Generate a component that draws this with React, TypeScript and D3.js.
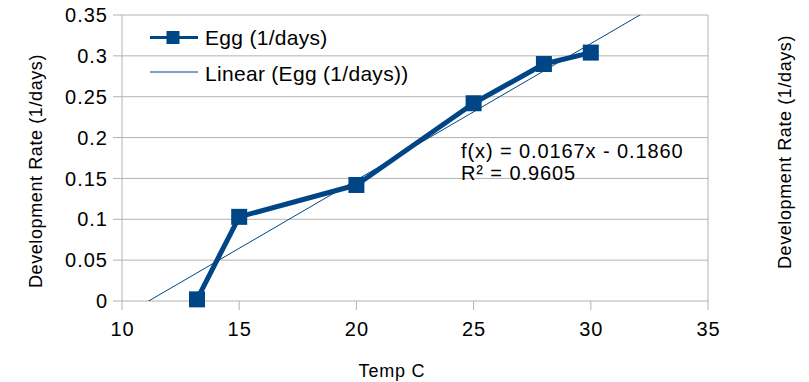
import React, { useRef, useEffect } from "react";
import * as d3 from "d3";

const temps = [13.2, 15, 20, 25, 28, 30];
const rates = [0.002, 0.103, 0.142, 0.242, 0.29, 0.304];
const xTicks = [10, 15, 20, 25, 30, 35];
const yTicks = [0, 0.05, 0.1, 0.15, 0.2, 0.25, 0.3, 0.35];
const slope = 0.0167;
const intercept = -0.186;
const seriesName = "Egg (1/days)";
const trendName = "Linear (Egg (1/days))";
const yTitle = "Development Rate (1/days)";
const xTitle = "Temp C";

const App: React.FC = () => {
    const svgRef = useRef<SVGSVGElement | null>(null);

    useEffect(() => {
        if (!svgRef.current) return;
        const width = 809;
        const height = 382;
        const color = "#004586";
        const grid = "#b3b3b3";
        const font = "'Liberation Sans', Arial, sans-serif";

        const x = d3.scaleLinear().domain([10, 35]).range([122, 708]);
        const y = d3.scaleLinear().domain([0, 0.35]).range([301, 15]);

        const svg = d3.select(svgRef.current);
        svg.selectAll("*").remove();
        svg.attr("width", width).attr("height", height)
            .style("font-family", font)
            .style("fill", "#000");

        // clip for the trendline
        svg.append("clipPath").attr("id", "plot-clip")
            .append("rect")
            .attr("x", x(10)).attr("y", y(0.35))
            .attr("width", x(35) - x(10)).attr("height", y(0) - y(0.35));

        // horizontal gridlines (extend left as ticks)
        svg.append("g").selectAll("line")
            .data(yTicks)
            .join("line")
            .attr("x1", x(10) - 9).attr("x2", x(35))
            .attr("y1", d => y(d)).attr("y2", d => y(d))
            .attr("stroke", grid).attr("stroke-width", 1);

        // x ticks
        svg.append("g").selectAll("line")
            .data(xTicks)
            .join("line")
            .attr("x1", d => x(d)).attr("x2", d => x(d))
            .attr("y1", y(0)).attr("y2", y(0) + 9)
            .attr("stroke", grid);

        // frame verticals
        svg.append("line").attr("x1", x(10)).attr("x2", x(10))
            .attr("y1", y(0.35)).attr("y2", y(0)).attr("stroke", grid);
        svg.append("line").attr("x1", x(35)).attr("x2", x(35))
            .attr("y1", y(0.35)).attr("y2", y(0)).attr("stroke", grid);

        // y tick labels
        svg.append("g").selectAll("text")
            .data(yTicks)
            .join("text")
            .attr("x", 108).attr("y", d => y(d))
            .attr("dy", "0.36em")
            .attr("text-anchor", "end")
            .attr("font-size", 20)
            .attr("letter-spacing", 1)
            .text(d => String(d));

        // x tick labels
        svg.append("g").selectAll("text")
            .data(xTicks)
            .join("text")
            .attr("x", d => x(d) + 0.5).attr("y", 336)
            .attr("text-anchor", "middle")
            .attr("font-size", 20)
            .attr("letter-spacing", 1)
            .text(d => String(d));

        // axis titles
        svg.append("text")
            .attr("x", 392).attr("y", 377)
            .attr("text-anchor", "middle").attr("font-size", 18)
            .attr("letter-spacing", 0.8)
            .text(xTitle);
        svg.append("text")
            .attr("transform", "translate(42,171) rotate(-90)")
            .attr("text-anchor", "middle").attr("font-size", 18)
            .attr("letter-spacing", 0.6)
            .text(yTitle);
        svg.append("text")
            .attr("transform", "translate(791,152) rotate(-90)")
            .attr("text-anchor", "middle").attr("font-size", 18)
            .attr("letter-spacing", 0.6)
            .text(yTitle);

        // trendline
        const trendLine = d3.line<number>().x(d => x(d)).y(d => y(slope * d + intercept));
        svg.append("path")
            .attr("d", trendLine([10, 35]))
            .attr("clip-path", "url(#plot-clip)")
            .attr("fill", "none").attr("stroke", color).attr("stroke-width", 1);

        // data series
        const pts = temps.map((t, i) => [t, rates[i]] as [number, number]);
        const line = d3.line<[number, number]>().x(d => x(d[0])).y(d => y(d[1]));
        svg.append("path")
            .attr("d", line(pts))
            .attr("fill", "none").attr("stroke", color)
            .attr("stroke-width", 5).attr("stroke-linejoin", "round");
        const sq = 16;
        svg.append("g").selectAll("rect")
            .data(pts)
            .join("rect")
            .attr("x", d => x(d[0]) - sq / 2).attr("y", d => y(d[1]) - sq / 2)
            .attr("width", sq).attr("height", sq)
            .attr("fill", color);

        // legend
        const lg = svg.append("g");
        lg.append("line").attr("x1", 150).attr("x2", 198).attr("y1", 37.5).attr("y2", 37.5)
            .attr("stroke", color).attr("stroke-width", 3);
        lg.append("rect").attr("x", 166.5).attr("y", 31).attr("width", 13).attr("height", 13)
            .attr("fill", color);
        lg.append("text").attr("x", 205).attr("y", 45).attr("font-size", 21)
            .attr("letter-spacing", 0.3).text(seriesName);
        lg.append("line").attr("x1", 150).attr("x2", 198).attr("y1", 72).attr("y2", 72)
            .attr("stroke", color).attr("stroke-width", 1);
        lg.append("text").attr("x", 205).attr("y", 81).attr("font-size", 21)
            .attr("letter-spacing", 0.3).text(trendName);

        // equation
        svg.append("text").attr("x", 461).attr("y", 158).attr("font-size", 20)
            .attr("letter-spacing", 0.9)
            .text(`f(x) = ${slope.toFixed(4)}x - ${Math.abs(intercept).toFixed(4)}`);
        svg.append("text").attr("x", 461).attr("y", 180).attr("font-size", 20)
            .attr("letter-spacing", 0.9)
            .text("R² = 0.9605");
    }, []);

    return <svg ref={svgRef} style={{ position: "absolute", left: 0, top: 0 }} />;
};

export default App;
